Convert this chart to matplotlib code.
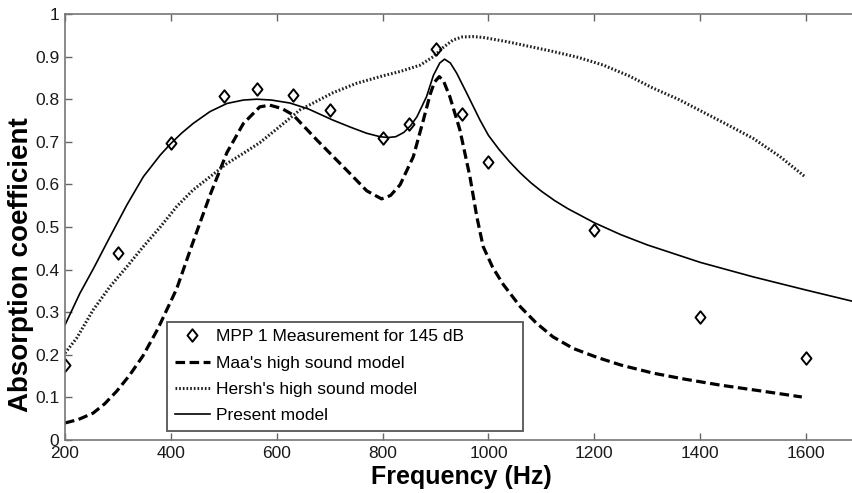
import matplotlib
matplotlib.use("Agg")
import matplotlib.pyplot as plt
from matplotlib.path import Path

# ---- data ----
meas_f = [200, 300, 400, 500, 563, 630, 700, 800, 850, 900, 950, 1000, 1200, 1400, 1600]
meas_a = [0.175, 0.44, 0.697, 0.808, 0.823, 0.81, 0.775, 0.708, 0.742, 0.918, 0.765, 0.653, 0.493, 0.289, 0.192]

maa_f = [200, 225, 253, 275, 298, 322, 347, 375, 411, 442, 474, 506, 537, 568, 587, 610, 631, 676,
         738, 770, 798, 815, 833, 858, 877, 890, 898, 907, 915, 927, 946, 965, 978, 990, 1008, 1028,
         1060, 1090, 1122, 1160, 1205, 1250, 1311, 1370, 1437, 1510, 1592]
maa_a = [0.04, 0.048, 0.063, 0.085, 0.115, 0.152, 0.197, 0.26, 0.355, 0.465, 0.575, 0.675, 0.743,
         0.782, 0.786, 0.778, 0.763, 0.704, 0.626, 0.585, 0.566, 0.574, 0.599, 0.665, 0.751, 0.812,
         0.84, 0.853, 0.843, 0.806, 0.728, 0.618, 0.524, 0.454, 0.405, 0.365, 0.313, 0.275, 0.242,
         0.215, 0.194, 0.176, 0.157, 0.143, 0.129, 0.116, 0.101]

hersh_f = [200, 222, 253, 285, 317, 348, 380, 411, 442, 474, 506, 537, 568, 600, 644, 706, 750,
           801, 833, 871, 896, 915, 933, 950, 970, 990, 1035, 1092, 1122, 1170, 1217, 1265, 1311,
           1360, 1405, 1450, 1500, 1550, 1598]
hersh_a = [0.204, 0.239, 0.305, 0.36, 0.407, 0.454, 0.5, 0.548, 0.587, 0.618, 0.649, 0.673, 0.698,
           0.73, 0.775, 0.815, 0.837, 0.855, 0.865, 0.88, 0.9, 0.922, 0.939, 0.946, 0.947, 0.945,
           0.935, 0.92, 0.912, 0.898, 0.88, 0.855, 0.826, 0.799, 0.77, 0.741, 0.708, 0.666, 0.618]

pres_f = [200, 228, 254, 285, 317, 348, 380, 400, 420, 442, 474, 506, 537, 562, 590, 625, 660, 706,
          740, 770, 795, 810, 825, 840, 853, 865, 883, 896, 908, 917, 928, 940, 959, 984, 1000,
          1020, 1040, 1060, 1080, 1100, 1125, 1150, 1200, 1250, 1300, 1400, 1500, 1600, 1700]
pres_a = [0.27, 0.344, 0.403, 0.477, 0.552, 0.618, 0.669, 0.696, 0.72, 0.743, 0.771, 0.79, 0.798,
          0.8, 0.798, 0.791, 0.777, 0.751, 0.734, 0.72, 0.712, 0.71, 0.712, 0.722, 0.738, 0.759,
          0.806, 0.856, 0.885, 0.894, 0.885, 0.861, 0.814, 0.751, 0.715, 0.682, 0.653, 0.627,
          0.604, 0.584, 0.562, 0.543, 0.51, 0.482, 0.458, 0.417, 0.383, 0.352, 0.322]

labels = ["MPP 1 Measurement for 145 dB", "Maa's high sound model",
          "Hersh's high sound model", "Present model"]
xticks = [200, 400, 600, 800, 1000, 1200, 1400, 1600]
yticks = [0, 0.1, 0.2, 0.3, 0.4, 0.5, 0.6, 0.7, 0.8, 0.9, 1.0]
yticklabels = ["0", "0.1", "0.2", "0.3", "0.4", "0.5", "0.6", "0.7", "0.8", "0.9", "1"]

plt.rcParams['font.family'] = ['Liberation Sans', 'DejaVu Sans']

W, H = 852, 493
fig = plt.figure(figsize=(W / 100, H / 100), dpi=100)
ax = fig.add_axes([65 / W, 53 / H, (859 - 65) / W, 426 / H])

diamond = Path([(0, 1), (0.8, 0), (0, -1), (-0.8, 0), (0, 1)],
               [Path.MOVETO, Path.LINETO, Path.LINETO, Path.LINETO, Path.CLOSEPOLY])

l2, = ax.plot(maa_f, maa_a, color='black', lw=2.3, linestyle=(0, (3.0, 1.4)))
l3, = ax.plot(hersh_f, hersh_a, color='#222222', lw=2.2, linestyle=(0, (0.55, 0.65)))
l4, = ax.plot(pres_f, pres_a, color='black', lw=1.2)
l1, = ax.plot(meas_f, meas_a, linestyle='none', marker=diamond, markersize=9,
              markerfacecolor='none', markeredgecolor='black', markeredgewidth=1.4)

ax.set_xlim(200, 1700)
ax.set_ylim(0, 1)
ax.set_xticks(xticks)
ax.set_xticklabels([str(v) for v in xticks])
ax.set_yticks(yticks)
ax.set_yticklabels(yticklabels)
ax.tick_params(direction='in', top=True, right=True, length=5, width=1,
               color='#666666', labelsize=12.5, labelcolor='#1a1a1a', pad=4)
for s in ax.spines.values():
    s.set_color('#777777')
    s.set_linewidth(1.2)

fig.text(21.5 / W, 1 - 265 / H, "Absorption coefficient", rotation=90,
         ha='center', va='center', fontsize=20, fontweight='bold')
fig.text(461 / W, 1 - 477 / H, "Frequency (Hz)", ha='center', va='center',
         fontsize=18, fontweight='bold')

leg = fig.legend([l1, l2, l3, l4], labels, loc='upper left',
                 bbox_to_anchor=(167 / W, 1 - 322 / H, (523 - 167) / W, 0.001),
                 mode='expand', borderaxespad=0, fancybox=False, framealpha=1,
                 fontsize=12.5, handlelength=2.0, handletextpad=0.35,
                 labelspacing=0.64, borderpad=0.45)
leg.get_frame().set_edgecolor('#555555')
leg.get_frame().set_linewidth(1.3)

fig.savefig("out.png", dpi=100)
